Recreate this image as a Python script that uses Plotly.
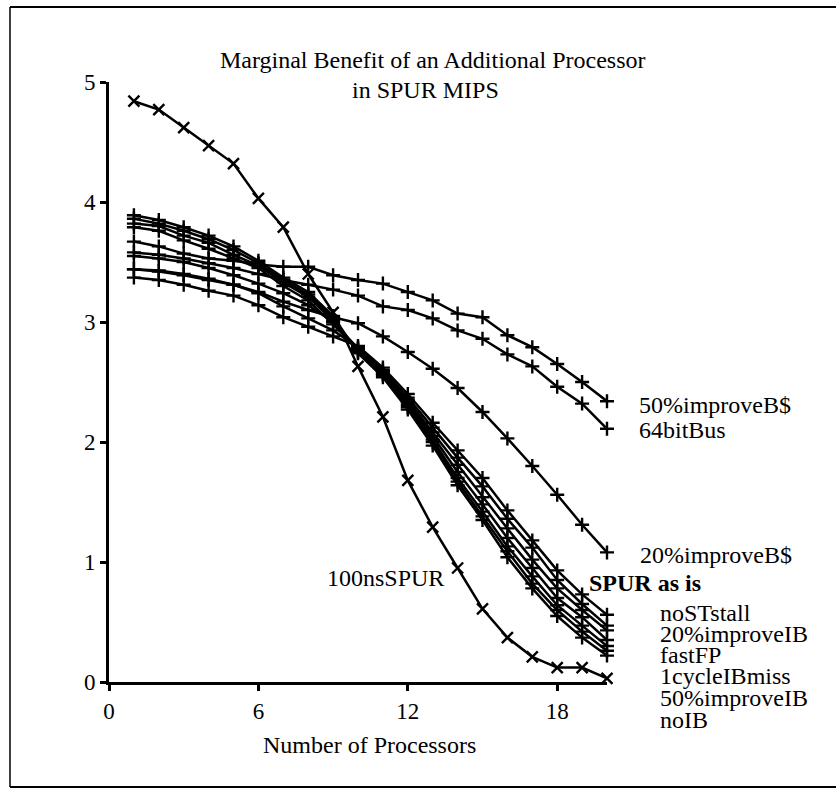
import plotly.graph_objects as go

# ---------------- data ----------------
processors = list(range(1, 21))

series_names = [
    "100nsSPUR", "50%improveB$", "64bitBus", "20%improveB$",
    "SPUR as is", "noSTstall", "20%improveIB", "fastFP",
    "1cycleIBmiss", "50%improveIB", "noIB",
]

ns100 = [4.84, 4.77, 4.62, 4.47, 4.32, 4.03, 3.79, 3.40, 3.08, 2.63,
         2.21, 1.68, 1.29, 0.95, 0.61, 0.37, 0.21, 0.12, 0.12, 0.03]
improve50_bcache = [3.67, 3.63, 3.57, 3.53, 3.51, 3.48, 3.46, 3.46, 3.39, 3.35,
                    3.32, 3.25, 3.18, 3.07, 3.04, 2.89, 2.79, 2.65, 2.50, 2.34]
bus64 = [3.58, 3.56, 3.53, 3.49, 3.45, 3.40, 3.35, 3.31, 3.27, 3.22,
         3.13, 3.10, 3.03, 2.93, 2.86, 2.73, 2.63, 2.46, 2.32, 2.11]
improve20_bcache = [3.44, 3.42, 3.39, 3.35, 3.31, 3.25, 3.17, 3.10, 3.04, 2.99,
                    2.88, 2.75, 2.61, 2.45, 2.25, 2.03, 1.80, 1.56, 1.31, 1.08]
spur_as_is = [3.37, 3.35, 3.31, 3.26, 3.22, 3.14, 3.04, 2.96, 2.88, 2.80,
              2.62, 2.40, 2.16, 1.93, 1.70, 1.43, 1.18, 0.93, 0.73, 0.56]
no_st_stall = [3.44, 3.43, 3.40, 3.36, 3.31, 3.24, 3.13, 3.03, 2.93, 2.79,
               2.60, 2.37, 2.12, 1.87, 1.63, 1.36, 1.12, 0.85, 0.65, 0.47]
improve20_ib = [3.55, 3.53, 3.50, 3.45, 3.39, 3.32, 3.24, 3.14, 3.00, 2.78,
                2.59, 2.35, 2.08, 1.81, 1.54, 1.28, 1.02, 0.78, 0.60, 0.43]
fast_fp = [3.79, 3.76, 3.68, 3.61, 3.53, 3.45, 3.30, 3.18, 2.98, 2.77,
           2.58, 2.33, 2.05, 1.75, 1.48, 1.20, 0.95, 0.70, 0.54, 0.35]
one_cycle_ib_miss = [3.82, 3.80, 3.72, 3.66, 3.56, 3.47, 3.33, 3.21, 3.01, 2.76,
                     2.57, 2.31, 2.02, 1.70, 1.42, 1.13, 0.88, 0.64, 0.47, 0.30]
improve50_ib = [3.86, 3.82, 3.76, 3.69, 3.60, 3.49, 3.35, 3.23, 3.03, 2.75,
                2.56, 2.29, 2.00, 1.67, 1.38, 1.09, 0.82, 0.60, 0.42, 0.26]
no_ib = [3.89, 3.85, 3.79, 3.72, 3.63, 3.51, 3.37, 3.25, 3.05, 2.74,
         2.54, 2.27, 1.97, 1.64, 1.35, 1.04, 0.78, 0.55, 0.37, 0.22]

series_values = [ns100, improve50_bcache, bus64, improve20_bcache, spur_as_is,
                 no_st_stall, improve20_ib, fast_fp, one_cycle_ib_miss,
                 improve50_ib, no_ib]

x_tick_vals = [0, 6, 12, 18]
y_tick_vals = [0, 1, 2, 3, 4, 5]

title_lines = ["Marginal Benefit of an Additional Processor", "in SPUR MIPS"]
x_title = "Number of Processors"

# ---------------- style / layout ----------------
W, H = 836, 789
ML, MR, MT, MB = 109, 229, 82, 107
PW, PH = W - ML - MR, H - MT - MB
FONT = "Liberation Serif, Times New Roman, serif"


def px(xpix):
    return (xpix - ML) / PW


def py(ypix):
    return (H - MB - ypix) / PH


fig = go.Figure()
for name, vals in zip(series_names, series_values):
    is_x = name == "100nsSPUR"
    fig.add_trace(go.Scatter(
        x=processors, y=vals, name=name, mode="lines+markers",
        line=dict(color="black", width=2.5),
        marker=dict(symbol="x-thin" if is_x else "cross-thin",
                    size=11 if is_x else 10,
                    line=dict(color="black", width=2.4)),
        cliponaxis=False, showlegend=False,
    ))

# label annotations (text, left px, center y px, bold)
label_style = [
    ("50%improveB$", 637, 405, False),
    ("64bitBus", 637, 430, False),
    ("20%improveB$", 638, 555, False),
    ("SPUR as is", 587, 583, True),
    ("noSTstall", 658, 613, False),
    ("20%improveIB", 658, 634, False),
    ("fastFP", 658, 655, False),
    ("1cycleIBmiss", 658, 676, False),
    ("50%improveIB", 658, 698, False),
    ("noIB", 658, 720, False),
    ("100nsSPUR", 325, 578, False),
]
annotations = []
for text, lx, ly, bold in label_style:
    annotations.append(dict(
        text=f"<b>{text}</b>" if bold else text,
        xref="paper", yref="paper", x=px(lx), y=py(ly),
        xanchor="left", yanchor="middle", showarrow=False,
        font=dict(family=FONT, size=24, color="black")))

annotations.append(dict(
    text=title_lines[0], xref="paper", yref="paper", x=px(432), y=py(60),
    xanchor="center", yanchor="middle", showarrow=False,
    font=dict(family=FONT, size=24, color="black")))
annotations.append(dict(
    text=title_lines[1], xref="paper", yref="paper", x=px(425), y=py(90),
    xanchor="center", yanchor="middle", showarrow=False,
    font=dict(family=FONT, size=24, color="black")))
annotations.append(dict(
    text=x_title, xref="paper", yref="paper", x=px(369), y=py(745),
    xanchor="center", yanchor="middle", showarrow=False,
    font=dict(family=FONT, size=24, color="black")))

shapes = [
    dict(type="line", xref="paper", yref="paper", x0=px(10), x1=px(836),
         y0=py(7), y1=py(7), line=dict(color="black", width=2)),
    dict(type="line", xref="paper", yref="paper", x0=px(10), x1=px(10),
         y0=py(7), y1=py(787), line=dict(color="black", width=1.5)),
    dict(type="line", xref="paper", yref="paper", x0=px(10), x1=px(836),
         y0=py(787), y1=py(787), line=dict(color="black", width=2)),
]

fig.update_layout(
    width=W, height=H,
    margin=dict(l=ML, r=MR, t=MT, b=MB, autoexpand=False),
    paper_bgcolor="white", plot_bgcolor="white",
    annotations=annotations, shapes=shapes,
    font=dict(family=FONT, size=23, color="black"),
)
fig.update_xaxes(range=[0, 20], tickvals=x_tick_vals, ticks="outside",
                 ticklen=6, tickwidth=2.5, tickcolor="black",
                 showline=True, linecolor="black", linewidth=3,
                 showgrid=False, zeroline=False,
                 tickfont=dict(family=FONT, size=23, color="black"))
fig.update_yaxes(range=[0, 5], tickvals=y_tick_vals, ticks="outside",
                 ticklen=6, tickwidth=2.5, tickcolor="black",
                 showline=True, linecolor="black", linewidth=3,
                 showgrid=False, zeroline=False,
                 tickfont=dict(family=FONT, size=23, color="black"))

fig.write_html("out.html")
